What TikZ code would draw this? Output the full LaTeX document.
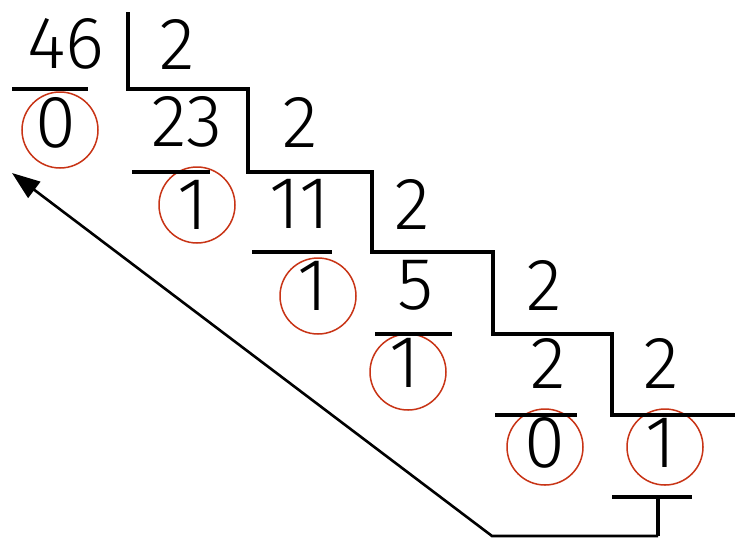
\documentclass[tikz,border=0pt]{standalone}
\usepackage{fontspec}
\setmainfont{Fira Sans}[UprightFont={* Light}]
\usetikzlibrary{arrows.meta}
\definecolor{ringred}{RGB}{200,52,22}
\begin{document}
\begin{tikzpicture}[x=1pt,y=-1pt,
  num/.style={inner sep=0pt,font=\fontsize{74}{74}\selectfont},
  ring/.style={draw=ringred,line width=1.5pt,circle,minimum size=76pt,inner sep=0pt},
  rule/.style={line width=3.2pt},
  conn/.style={line width=2.6pt}]
\useasboundingbox[fill=white] (0,0) rectangle (735,539);
% numbers
\node[num] (n46) at (66,44) {46};
\node[num] (d1) at (177,44) {2};
\node[num] (r0) at (56,123) {0};
\node[num] (n23) at (187,122) {23};
\node[num] (d2) at (300,122) {2};
\node[num] (r1) at (193,205) {1};
\node[num] (n11) at (300,204) {11};
\node[num] (d3) at (412,204) {2};
\node[num] (r2) at (313,286) {1};
\node[num] (n5) at (416,285) {5};
\node[num] (d4) at (544,285) {2};
\node[num] (r3) at (405,363) {1};
\node[num] (n2) at (548,363) {2};
\node[num] (d5) at (661,363) {2};
\node[num] (r4) at (545,443) {0};
\node[num] (r5) at (661,443) {1};
% rings
\node[ring] (c0) at (60,130) {};
\node[ring] (c1) at (197,205) {};
\node[ring] (c2) at (318,296) {};
\node[ring] (c3) at (408,372) {};
\node[ring] (c4) at (545,447) {};
\node[ring] (c5) at (665,447) {};
% underlines
\draw[rule] (12,89) -- (88,89);
\draw[rule] (132,172) -- (210,172);
\draw[rule] (252,252) -- (332,252);
\draw[rule] (375,334) -- (452,334);
\draw[rule] (495,415) -- (577,415);
\draw[rule] (612,497) -- (692,497);
% staircase
\draw[rule] (128,12) -- (128,89) -- (248,89) -- (248,172) -- (372,172) -- (372,252)
  -- (493,252) -- (493,334) -- (612,334) -- (612,415) -- (735,415);
% return arrow
\coordinate (b0) at (658,497);
\coordinate (b1) at (658,536);
\coordinate (b2) at (492,536);
\coordinate (tip) at (12,173);
\draw[rule] (b0) -- (b1);
\draw[conn,-{Triangle[length=28pt,width=20pt]}] (b1) -- (b2) -- (tip);
\end{tikzpicture}
\end{document}
